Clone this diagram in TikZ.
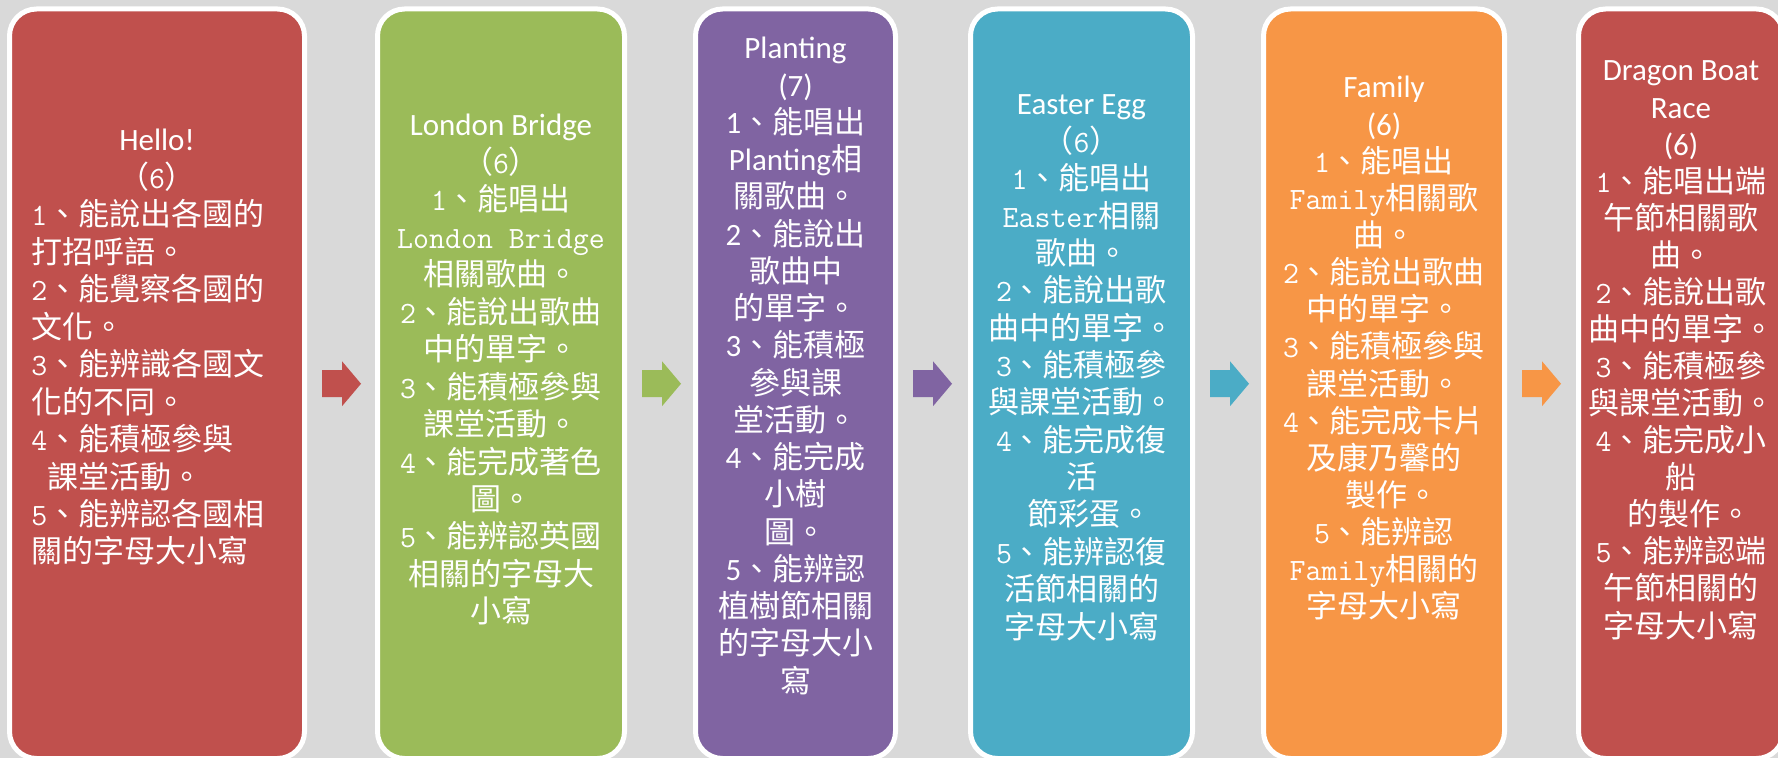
\documentclass[tikz,border=0pt]{standalone}
\usepackage{fontspec}
\setmainfont{Noto Sans CJK TC}
\newfontfamily\calfont{Carlito}
\newcommand\latc[1]{{\calfont #1}}
\newcommand\latm[1]{{\ttfamily #1}}
\usetikzlibrary{calc}
\definecolor{bg}{HTML}{D9D9D9}
\definecolor{cred}{HTML}{C0504D}
\definecolor{cgreen}{HTML}{9BBB59}
\definecolor{cpurple}{HTML}{8064A2}
\definecolor{caqua}{HTML}{4BACC6}
\definecolor{corange}{HTML}{F79646}
\tikzset{
  box/.style={draw=white, line width=2.5pt, rounded corners=13.5pt, minimum height=374.75pt, inner sep=0pt},
  ln/.style={text=white, inner sep=0pt, anchor=base, font=\fontsize{15.5}{18.7}\selectfont},
}
\newcommand\blockarrow[2]{%
  \fill[#2] ($(#1.east)+(15,-13.5)$) -- ++(20,0) -- ++(0,-9) -- ++(19,22.5) -- ++(-19,22.5) -- ++(0,-9) -- ++(-20,0) -- cycle;}
\begin{document}
\begin{tikzpicture}[x=0.5pt,y=-0.5pt]
\useasboundingbox (0,0) rectangle (1778,758);
\clip (0,0) rectangle (1778,758);
\fill[bg] (0,0) rectangle (1778,758);
% boxes
\node[box, fill=cred,    minimum width=147.5pt] (b1) at (157,383.75) {};
\node[box, fill=cgreen,  minimum width=123.5pt] (b2) at (501,383.75) {};
\node[box, fill=cpurple, minimum width=100pt]   (b3) at (795.5,383.75) {};
\node[box, fill=caqua,   minimum width=111pt]   (b4) at (1081.5,383.75) {};
\node[box, fill=corange, minimum width=120.5pt] (b5) at (1384,383.75) {};
\node[box, fill=cred,    minimum width=102.5pt] (b6) at (1681,383.75) {};
% arrows
\blockarrow{b1}{cred}
\blockarrow{b2}{cgreen}
\blockarrow{b3}{cpurple}
\blockarrow{b4}{caqua}
\blockarrow{b5}{corange}
% box 1 text
\node[ln] (t1-a) at (157,151) {\latc{Hello!}};
\node[ln] (t1-b) at (157,188.45) {（\latm{6}）};
\foreach \t [count=\i] in {
  {\latm{1}、能說出各國的},
  {打招呼語。},
  {\latm{2}、能覺察各國的},
  {文化。},
  {\latm{3}、能辨識各國文},
  {化的不同。},
  {\latm{4}、能積極參與},
  {\latm{\ }課堂活動。},
  {\latm{5}、能辨認各國相},
  {關的字母大小寫}}
  {\node[ln, anchor=base west] (t1-\i) at ({31}, {225.9+37.45*(\i-1)}) {\t};}
% box 2 text
\foreach \t [count=\i] in {
  {\latc{London Bridge}},
  {（\latm{6}）},
  {\latm{1}、能唱出},
  {\latm{London Bridge}},
  {相關歌曲。},
  {\latm{2}、能說出歌曲},
  {中的單字。},
  {\latm{3}、能積極參與},
  {課堂活動。},
  {\latm{4}、能完成著色},
  {圖。},
  {\latm{5}、能辨認英國},
  {相關的字母大},
  {小寫}}
  {\node[ln] (t2-\i) at ({501}, {136+37.45*(\i-1)}) {\t};}
% box 3 text
\foreach \t [count=\i] in {
  {\latc{Planting}},
  {\latc{(7)}},
  {\latc{1}、能唱出},
  {\latc{Planting}相},
  {關歌曲。},
  {\latc{2}、能說出},
  {歌曲中},
  {的單字。},
  {\latc{3}、能積極},
  {參與課},
  {堂活動。},
  {\latc{4}、能完成},
  {小樹},
  {圖。},
  {\latc{5}、能辨認},
  {植樹節相關},
  {的字母大小},
  {寫}}
  {\node[ln] (t3-\i) at ({795.5}, {59+37.24*(\i-1)}) {\t};}
% box 4 text
\foreach \t [count=\i] in {
  {\latc{Easter Egg}},
  {（\latm{6}）},
  {\latm{1}、能唱出},
  {\latm{Easter}相關},
  {歌曲。},
  {\latm{2}、能說出歌},
  {曲中的單字。},
  {\latm{3}、能積極參},
  {與課堂活動。},
  {\latm{4}、能完成復},
  {活},
  {\latm{\ }節彩蛋。},
  {\latm{5}、能辨認復},
  {活節相關的},
  {字母大小寫}}
  {\node[ln] (t4-\i) at ({1081.5}, {115+37.36*(\i-1)}) {\t};}
% box 5 text
\foreach \t [count=\i] in {
  {\latc{Family}},
  {\latc{(6)}},
  {\latm{1}、能唱出},
  {\latm{Family}相關歌},
  {曲。},
  {\latm{2}、能說出歌曲},
  {中的單字。},
  {\latm{3}、能積極參與},
  {課堂活動。},
  {\latm{4}、能完成卡片},
  {及康乃馨的},
  {\latm{\ }製作。},
  {\latm{5}、能辨認},
  {\latm{Family}相關的},
  {字母大小寫}}
  {\node[ln] (t5-\i) at ({1384}, {98+37.14*(\i-1)}) {\t};}
% box 6 text
\foreach \t [count=\i] in {
  {\latc{Dragon Boat}},
  {\latc{Race}},
  {\latc{(6)}},
  {\latm{1}、能唱出端},
  {午節相關歌},
  {曲。},
  {\latm{2}、能說出歌},
  {曲中的單字。},
  {\latm{3}、能積極參},
  {與課堂活動。},
  {\latm{4}、能完成小},
  {船},
  {\latm{\ }的製作。},
  {\latm{5}、能辨認端},
  {午節相關的},
  {字母大小寫}}
  {\node[ln] (t6-\i) at ({1681}, {81+37.07*(\i-1)}) {\t};}
\end{tikzpicture}
\end{document}
